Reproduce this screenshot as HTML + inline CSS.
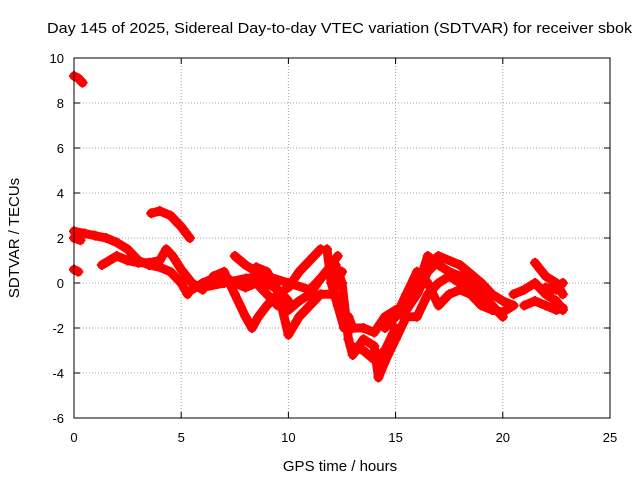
<!DOCTYPE html>
<html><head><meta charset="utf-8"><style>
body{margin:0;background:#fff;}
svg{display:block;font-family:"Liberation Sans",sans-serif;}
</style></head><body>
<svg id="chart" width="640" height="480">
<rect width="640" height="480" fill="#fff"/>
<text x="47" y="33" font-size="15" textLength="585" lengthAdjust="spacingAndGlyphs">Day 145 of 2025, Sidereal Day-to-day VTEC variation (SDTVAR) for receiver sbok</text>
<text x="340" y="471" font-size="15" text-anchor="middle">GPS time / hours</text>
<text x="19" y="238" font-size="15" text-anchor="middle" transform="rotate(-90 19 238)">SDTVAR / TECUs</text>
<g id="grid"></g><g id="ticks"></g><g id="marks"></g>
<rect x="74" y="58" width="536" height="360" fill="none" stroke="#000" stroke-width="1"/>
</svg>
<script>
const xTicks=[0,5,10,15,20,25];
const yTicks=[-6,-4,-2,0,2,4,6,8,10];
const track1=[[0,9.2],[0.2,9.1],[0.4,8.9]];
const track2=[[0,2.3],[0.5,2.2],[1,2.1],[1.5,2.0],[2,1.8],[2.5,1.5],[3,1.0],[3.5,0.8],[4,0.7],[4.5,0.5],[5,0],[5.3,-0.5]];
const track3=[[0,0.6],[0.2,0.5]];
const track4=[[0,2.0],[0.3,1.9]];
const track5=[[1.3,0.8],[2,1.2],[2.5,1.0],[3,0.9],[3.5,0.9],[4,1.0],[4.3,1.5],[4.6,1.2],[5,0.6],[5.5,0],[6,-0.3]];
const track6=[[3.6,3.1],[4,3.2],[4.5,3.0],[5,2.5],[5.4,2.0]];
const track7=[[5.5,-0.3],[6,0],[6.5,0.2],[7,0.3],[7.5,0],[8,-0.2],[8.5,0],[9,-0.5],[9.5,-1],[10,-1.2],[10.5,-0.8],[11,-0.5],[11.5,0.2],[12,0.8],[12.3,1.2]];
const track8=[[6.5,0.3],[7,0.5],[7.5,-0.5],[8,-1.5],[8.3,-2],[8.6,-1.5],[9,-1],[9.5,-0.5],[10,-0.2],[10.5,0.5],[11,1.0],[11.5,1.5]];
const track9=[[7.5,1.2],[8,0.8],[8.5,0.5],[9,0],[9.5,-0.3],[10,-2.3],[10.5,-1.5],[11,-1],[11.5,-0.5],[12,-0.5],[12.5,0.5]];
const track10=[[8.5,0.7],[9,0.5],[9.5,-0.3],[10,-0.8]];
const track11=[[12.2,0.8],[12.5,0],[12.8,-2.5],[13,-3.2],[13.5,-2.5],[14,-2.8],[14.2,-4.2],[14.5,-3.5],[15,-2.5],[15.5,-1.5],[16,-1.5],[16.5,-0.5],[17,0],[17.5,0.3],[18,0],[18.5,-0.5],[19,-1],[19.5,-1.2],[20,-1.3],[20.5,-1]];
const track12=[[12.8,-1.5],[13,-2],[13.5,-2],[14,-2.2],[14.5,-1.5],[15,-1.2],[15.5,-1],[16,-0.3],[16.5,1.2],[17,0.8],[17.5,0.5],[18,0.3],[18.5,0],[19,-0.5],[19.5,-1],[20,-1.5]];
const track13=[[15,-1.5],[15.5,-0.5],[16,0.5],[16.5,0],[17,-1],[17.5,-0.5],[18,-0.3],[18.5,-0.5]];
const track14=[[16.5,0.8],[17,1.2],[18,0.8],[18.5,0.4],[19,0],[19.5,-0.5],[20,-0.8],[20.5,-1.0]];
const track15=[[20.5,-0.5],[21,-0.3],[21.5,0],[22,-0.5],[22.5,-0.8],[22.8,-1.2]];
const track16=[[21.5,0.9],[22,0.3],[22.5,0],[22.8,-0.5]];
const track17=[[21,-1],[21.5,-0.8],[22,-1],[22.5,-1.2],[22.8,-1.1]];
const track18=[[22,-0.2],[22.5,-0.3],[22.8,0]];
const track19=[[6,-0.2],[7,0],[8,0.2],[9,0.3],[10,0],[11,-0.3],[11.8,0.5]];
const track20=[[12.9,-2.8],[13.5,-3],[14,-3.4],[14.5,-3],[15,-2]];
const track21=[[14.5,-2],[15,-1.5],[15.5,-1.2],[16,-0.5],[16.5,0.5],[17,1.0]];
const track22=[[11.8,1.5],[12,0],[12.3,-1],[12.6,-2]];
const tracks=[track1,track2,track3,track4,track5,track6,track7,track8,track9,track10,track11,track12,track13,track14,track15,track16,track17,track18,track19,track20,track21,track22];

const NS='http://www.w3.org/2000/svg';
const X0=74,X1=610,Y0=418,Y1=58;
const xs=v=>X0+(v-0)/(25-0)*(X1-X0);
const ys=v=>Y0-(v+6)/(16)*(Y0-Y1);
function mk(tag,attrs,parent){const e=document.createElementNS(NS,tag);for(const k in attrs)e.setAttribute(k,attrs[k]);parent.appendChild(e);return e;}
const grid=document.getElementById('grid'),ticks=document.getElementById('ticks'),marks=document.getElementById('marks');
xTicks.forEach(t=>{
 const x=xs(t);
 if(t>0&&t<25){const g=mk('line',{x1:x,x2:x,y1:Y0,y2:Y1,stroke:'#a0a0a0','stroke-dasharray':'1,2'},grid);
 
 }
 mk('line',{x1:x,x2:x,y1:Y0,y2:Y0-6,stroke:'#000'},ticks);
 mk('line',{x1:x,x2:x,y1:Y1,y2:Y1+6,stroke:'#000'},ticks);
 const l=mk('text',{x:x,y:Y0+24,'font-size':13,'text-anchor':'middle'},ticks);l.textContent=t;
 
 
});
yTicks.forEach(t=>{
 const y=ys(t);
 if(t>-6&&t<10){const g=mk('line',{x1:X0,x2:X1,y1:y,y2:y,stroke:'#a0a0a0','stroke-dasharray':'1,2'},grid);
 
 }
 mk('line',{x1:X0,x2:X0+6,y1:y,y2:y,stroke:'#000'},ticks);
 mk('line',{x1:X1,x2:X1-6,y1:y,y2:y,stroke:'#000'},ticks);
 const l=mk('text',{x:X0-10,y:y+5,'font-size':13,'text-anchor':'end'},ticks);l.textContent=t;
 
 
});
tracks.forEach((tr,i)=>{
 const pts=tr.map(p=>xs(p[0])+','+ys(p[1])).join(' ');
 const pl=mk('polyline',{points:pts,fill:'none',stroke:'#ff0000','stroke-width':9,'stroke-linejoin':'round','stroke-linecap':'round'},marks);
 
 
 tr.forEach(p=>{
  const x=xs(p[0]),y=ys(p[1]);
  const c=mk('path',{d:`M${x-5},${y}H${x+5}M${x},${y-5}V${y+5}`,stroke:'#ff0000','stroke-width':2},marks);
  
  
 });
});
</script>
</body></html>
